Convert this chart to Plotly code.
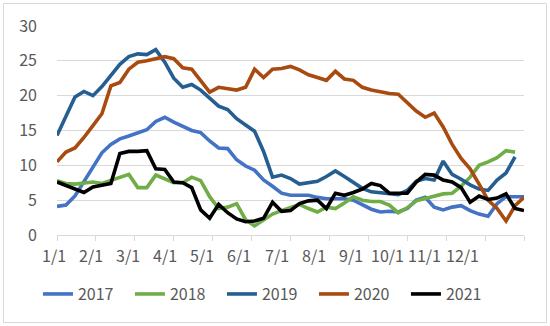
import plotly.graph_objects as go

# ---- data ----
s2017 = [4.1,4.3,5.6,7.6,9.8,11.8,13.0,13.8,14.2,14.6,15.1,16.3,16.9,16.2,15.6,15.0,14.7,13.5,12.5,12.4,
         10.8,9.9,9.3,7.9,7.0,6.0,5.7,5.7,5.7,5.4,5.2,5.2,5.2,5.0,4.4,3.7,3.3,3.4,3.3,3.8,
         5.0,5.4,4.0,3.6,4.0,4.2,3.5,3.0,2.7,4.5,5.5,5.5,5.5]
s2018 = [7.8,7.4,7.3,7.4,7.6,7.4,7.8,8.2,8.7,6.8,6.8,8.6,8.0,7.5,7.5,8.3,7.8,5.5,3.8,4.0,
         4.5,2.2,1.3,2.1,3.0,3.5,4.0,4.4,3.8,3.3,4.0,3.8,4.6,5.5,5.0,4.8,4.8,4.3,3.2,3.9,
         4.9,5.2,5.5,5.9,6.0,7.0,8.3,10.0,10.5,11.1,12.1,11.9]
s2019 = [14.3,17.0,19.8,20.6,20.0,21.3,23.0,24.5,25.6,26.0,25.9,26.6,24.8,22.5,21.2,21.6,20.8,19.6,18.5,18.0,
         16.7,15.8,14.9,12.0,8.3,8.6,8.1,7.3,7.5,7.7,8.4,9.2,8.4,7.6,6.7,6.2,6.1,6.0,5.8,6.4,
         7.7,8.1,7.9,10.6,8.7,8.0,7.2,6.6,6.4,7.9,8.9,11.2]
s2020 = [10.5,11.9,12.5,14.0,15.7,17.4,21.4,21.9,23.8,24.8,25.0,25.3,25.6,25.3,24.0,23.8,22.2,20.5,21.2,21.0,
         20.8,21.2,23.8,22.6,23.8,23.9,24.2,23.7,23.0,22.6,22.2,23.5,22.4,22.2,21.2,20.8,20.5,20.3,20.2,19.0,
         17.8,16.9,17.5,15.5,13.0,11.0,9.5,7.3,5.0,3.8,2.0,4.2,5.4]
s2021 = [7.6,7.1,6.5,6.1,6.9,7.1,7.4,11.7,12.0,12.0,12.1,9.5,9.4,7.6,7.5,6.8,3.6,2.4,4.4,3.2,
         2.3,1.9,2.0,2.4,4.7,3.4,3.5,4.5,4.9,5.0,3.8,6.0,5.7,6.1,6.6,7.4,7.1,6.0,6.0,6.0,
         7.6,8.7,8.6,7.9,7.6,6.8,4.7,5.6,5.1,5.3,5.9,3.8,3.5]
month_labels = ["1/1","2/1","3/1","4/1","5/1","6/1","7/1","8/1","9/1","10/1","11/1","12/1"]
series_names = ["2017","2018","2019","2020","2021"]
series_colors = ["#4472C4","#70AD47","#255E91","#A84B10","#000000"]

# ---- figure ----
W, H = 550, 326
ML, MR, MT, MB = 57, 26, 26, 91
NPTS = 53
xmax = NPTS - 1
fig = go.Figure()
for name, vals, col in zip(series_names, [s2017, s2018, s2019, s2020, s2021], series_colors):
    fig.add_trace(go.Scatter(x=list(range(len(vals))), y=vals, mode="lines", name=name,
                             line=dict(color=col, width=3.6)))

tick_marks = [xmax * k / 12 for k in range(13)]
label_pos = [-0.33 + 4.13 * k for k in range(12)]

annotations = [dict(x=p / xmax, y=-0.095, xref="paper", yref="paper", text=t, showarrow=False,
                    xanchor="center", yanchor="middle",
                    font=dict(size=16, color="#595959", family="Noto Sans CJK SC"))
               for p, t in zip(label_pos, month_labels)]

pw = W - ML - MR
ph = H - MT - MB
def px2paper_x(px):
    return (px - ML) / pw
def py2paper_y(py):
    return (H - MB - py) / ph

fig.update_layout(
    width=W, height=H,
    margin=dict(l=ML, r=MR, t=MT, b=MB, pad=0),
    paper_bgcolor="white", plot_bgcolor="white",
    font=dict(family="Noto Sans CJK SC", size=16, color="#595959"),
    xaxis=dict(range=[0, xmax], showgrid=False, zeroline=False, showline=True,
               linecolor="#D9D9D9", linewidth=1, ticks="outside", ticklen=5,
               tickcolor="#D9D9D9", tickvals=tick_marks, showticklabels=False),
    yaxis=dict(range=[0, 30], dtick=5, tick0=0, showgrid=True, gridcolor="#D9D9D9",
               gridwidth=1, zeroline=False, showline=False, ticks="",
               ticklabelstandoff=19, tickfont=dict(size=16, color="#595959")),
    showlegend=True,
    legend=dict(orientation="h", xref="container", yref="container", x=0.069, y=0.098,
                xanchor="left", yanchor="middle", entrywidth=47, entrywidthmode="pixels",
                font=dict(size=16, color="#595959"), bgcolor="rgba(0,0,0,0)",
                itemclick=False),
    annotations=annotations,
    shapes=[dict(type="rect", xref="paper", yref="paper",
                 x0=px2paper_x(3.5), x1=px2paper_x(546.5),
                 y0=py2paper_y(322.5), y1=py2paper_y(3.5),
                 line=dict(color="#D9D9D9", width=1), fillcolor="rgba(0,0,0,0)", layer="below")],
)

fig.write_html("out.html")
